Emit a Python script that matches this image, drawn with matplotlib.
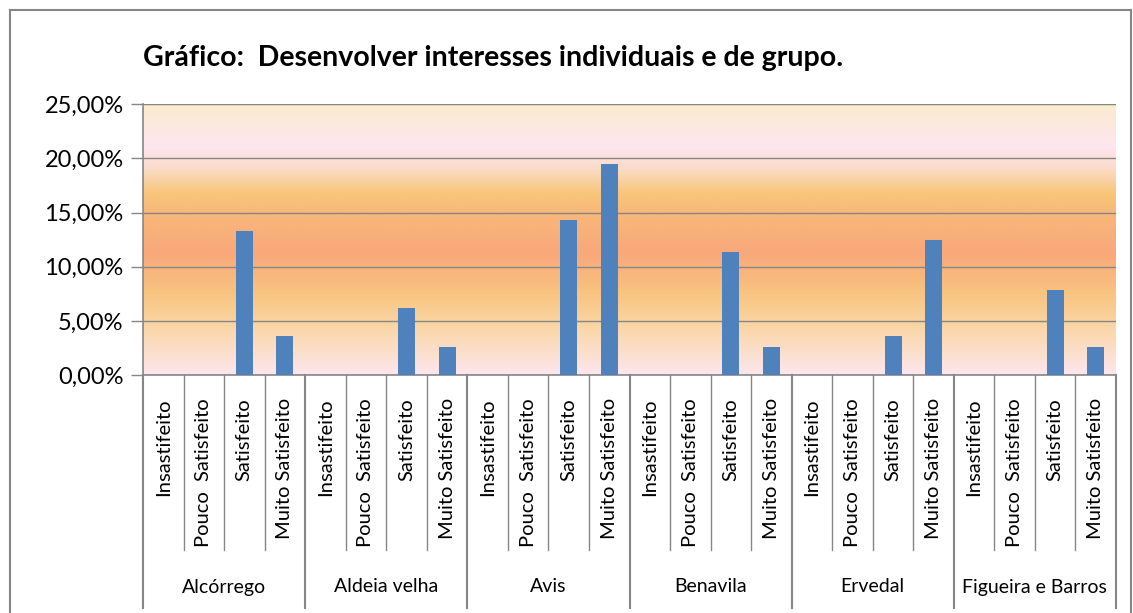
import matplotlib
matplotlib.use("Agg")
import matplotlib.pyplot as plt
import numpy as np
from matplotlib.colors import LinearSegmentedColormap
from matplotlib.lines import Line2D
from matplotlib.ticker import FuncFormatter, MultipleLocator

plt.rcParams['font.family'] = ['Lato', 'DejaVu Sans']

groups = ["Alcórrego", "Aldeia velha", "Avis", "Benavila", "Ervedal", "Figueira e Barros"]
levels = ["Insastifeito", "Pouco  Satisfeito", "Satisfeito", "Muito Satisfeito"]
values = [
    [0, 0, 13.3, 3.6],
    [0, 0, 6.2, 2.6],
    [0, 0, 14.3, 19.5],
    [0, 0, 11.4, 2.6],
    [0, 0, 3.6, 12.5],
    [0, 0, 7.9, 2.6],
]

W, H = 1133, 613
fig = plt.figure(figsize=(W / 100, H / 100), dpi=100)
fig.patch.set_facecolor("white")

# plot area in pixel coordinates
L, R, T, B = 143, 1116, 104, 375.3
ax = fig.add_axes([L / W, 1 - B / H, (R - L) / W, (B - T) / H])

GRID = "#868686"
BAR = "#4F81BD"

flat = [v for g in values for v in g]
n = len(flat)
x = np.arange(n)

# gradient background (bottom -> top)
stops = [
    (0.00, (253, 230, 238)),
    (0.18, (250, 214, 165)),
    (0.30, (248, 196, 128)),
    (0.45, (249, 168, 122)),
    (0.60, (248, 184, 122)),
    (0.67, (248, 198, 122)),
    (0.76, (250, 220, 200)),
    (0.84, (253, 230, 240)),
    (1.00, (250, 236, 206)),
]
cmap = LinearSegmentedColormap.from_list(
    "bg", [(p, tuple(c / 255 for c in col)) for p, col in stops])
grad = np.linspace(0, 1, 256).reshape(-1, 1)
ax.imshow(grad, extent=(-0.5, n - 0.5, 0, 25), origin="lower", aspect="auto",
          cmap=cmap, zorder=0)

ax.bar(x, flat, width=0.42, color=BAR, zorder=3)

ax.set_xlim(-0.5, n - 0.5)
ax.set_ylim(0, 25)
ax.yaxis.set_major_locator(MultipleLocator(5))
ax.yaxis.set_major_formatter(FuncFormatter(lambda v, p: f"{v:.2f}".replace(".", ",") + "%"))
ax.grid(axis="y", color=GRID, lw=1.0, zorder=1)
ax.set_axisbelow(False)
ax.tick_params(axis="y", length=9, width=1, color=GRID, labelsize=17, pad=5)
ax.tick_params(axis="x", length=0, labelbottom=False)
for s in ["top", "right"]:
    ax.spines[s].set_visible(False)
ax.spines["left"].set_color(GRID)
ax.spines["bottom"].set_color(GRID)
ax.spines["left"].set_linewidth(1.2)
ax.spines["bottom"].set_linewidth(1.2)
ax.axhline(25, color=GRID, lw=1.5, zorder=2)

# multi-level category axis
trans = ax.get_xaxis_transform()
def ypix(py):
    return (B - py) / (B - T)  # axes fraction for pixel row py

for i in range(n + 1):
    bx = i - 0.5
    is_group = i % len(levels) == 0
    bottom = 608 if is_group else 550
    ax.add_line(Line2D([bx, bx], [0, ypix(bottom)], transform=trans, color=GRID,
                       lw=1.5 if is_group else 1.0, clip_on=False, zorder=5))

for i in range(n):
    ax.text(i, ypix(398), levels[i % len(levels)], transform=trans, rotation=90,
            ha="center", va="top", fontsize=14.5, clip_on=False)

for g, name in enumerate(groups):
    cx = g * len(levels) + (len(levels) - 1) / 2
    ax.text(cx, ypix(587), name, transform=trans, ha="center", va="center",
            fontsize=14, clip_on=False)

ax.text(0.0, ypix(58), "Gráfico:  Desenvolver interesses individuais e de grupo.",
        transform=ax.transAxes, ha="left", va="center",
        fontsize=20.5, fontweight="bold")

# outer chart frame
fig.add_artist(Line2D([10 / W, 10 / W], [0, 1 - 10 / H], color=GRID, lw=1.5))
fig.add_artist(Line2D([10 / W, 1131 / W], [1 - 10 / H, 1 - 10 / H], color=GRID, lw=1.5))
fig.add_artist(Line2D([1131 / W, 1131 / W], [0, 1 - 10 / H], color=GRID, lw=1.5))

fig.savefig("out.png", dpi=100, facecolor="white")
